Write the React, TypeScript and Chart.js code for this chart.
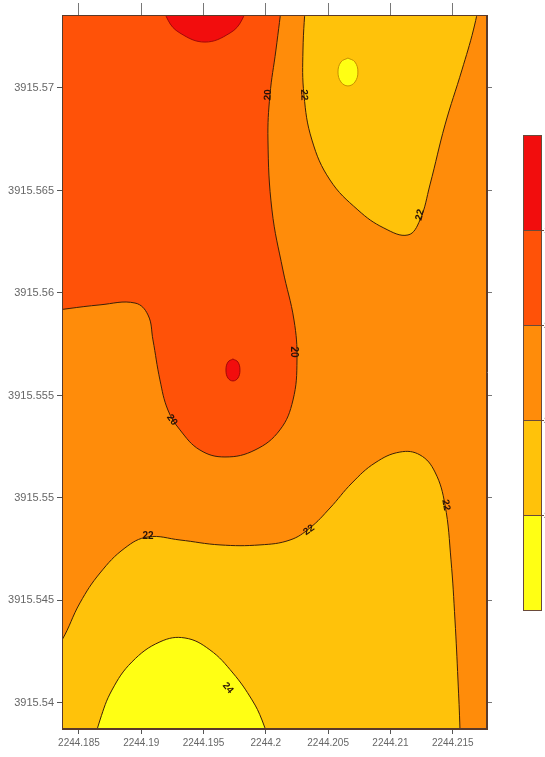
import React, { useEffect, useRef } from "react";
import { Chart, registerables } from "chart.js";
Chart.register(...registerables);

// ---- axes ----
const xTicks = [2244.185, 2244.19, 2244.195, 2244.2, 2244.205, 2244.21, 2244.215];
const yTicks = [3915.54, 3915.545, 3915.55, 3915.555, 3915.56, 3915.565, 3915.57];
const xRange = [2244.18364, 2244.21775];
const yRange = [3915.53873, 3915.57356];

// ---- contour boundaries (data units) ----
const redOrangeX = [2244.20137, 2244.20081, 2244.20033, 2244.20017, 2244.20049, 2244.20137, 2244.20226, 2244.2025, 2244.20218, 2244.20113, 2244.19913, 2244.19672, 2244.19471, 2244.19311, 2244.19214, 2244.1915, 2244.19094, 2244.19054, 2244.1895, 2244.18669, 2244.18187, 2244.18026];
const redOrangeY = [3915.57454, 3915.57185, 3915.56966, 3915.56746, 3915.56405, 3915.56112, 3915.55868, 3915.55673, 3915.55478, 3915.55332, 3915.55234, 3915.552, 3915.55234, 3915.55332, 3915.55429, 3915.55576, 3915.55771, 3915.55893, 3915.55951, 3915.55942, 3915.55907, 3915.55902];

const redTopX = [2244.1915, 2244.19214, 2244.19311, 2244.19511, 2244.19712, 2244.19808, 2244.19872];
const redTopY = [3915.57454, 3915.57332, 3915.57268, 3915.57224, 3915.57268, 3915.57332, 3915.57454];

const redDotX = [2244.19736, 2244.19776, 2244.19792, 2244.19776, 2244.19736, 2244.19696, 2244.1968, 2244.19696, 2244.19736];
const redDotY = [3915.55678, 3915.55663, 3915.55624, 3915.55585, 3915.55571, 3915.55585, 3915.55624, 3915.55663, 3915.55678];

const goldTopX = [2244.20322, 2244.20298, 2244.20306, 2244.2037, 2244.20515, 2244.20739, 2244.20947, 2244.21141, 2244.21237, 2244.21317, 2244.21438, 2244.21574, 2244.21666, 2244.21726];
const goldTopY = [3915.57454, 3915.57185, 3915.56966, 3915.56746, 3915.56551, 3915.56405, 3915.56317, 3915.56283, 3915.56356, 3915.56527, 3915.5682, 3915.57088, 3915.57283, 3915.57454];

const yellowDotX = [2244.20659, 2244.20715, 2244.20739, 2244.20715, 2244.20659, 2244.20603, 2244.20579, 2244.20603, 2244.20659];
const yellowDotY = [3915.57146, 3915.57127, 3915.57078, 3915.57029, 3915.5701, 3915.57029, 3915.57078, 3915.57127, 3915.57146];

const goldBottomX = [2244.18187, 2244.18364, 2244.18508, 2244.18669, 2244.18869, 2244.19054, 2244.19311, 2244.19632, 2244.19953, 2244.20194, 2244.20354, 2244.20515, 2244.20691, 2244.20876, 2244.21076, 2244.21237, 2244.21357, 2244.21438, 2244.21486, 2244.21518, 2244.21542, 2244.21558, 2244.21566];
const goldBottomY = [3915.54151, 3915.54307, 3915.54488, 3915.54634, 3915.54756, 3915.5481, 3915.54795, 3915.54771, 3915.54771, 3915.54795, 3915.54854, 3915.54951, 3915.55073, 3915.55171, 3915.55224, 3915.5521, 3915.55127, 3915.54966, 3915.54698, 3915.54405, 3915.54112, 3915.53873, 3915.53622];

const yellowBottomX = [2244.18604, 2244.18669, 2244.18765, 2244.18925, 2244.1915, 2244.19351, 2244.19551, 2244.19736, 2244.19889, 2244.19969, 2244.20049];
const yellowBottomY = [3915.53771, 3915.53917, 3915.54063, 3915.542, 3915.54298, 3915.54317, 3915.54259, 3915.54146, 3915.54015, 3915.53917, 3915.53771];

// ---- contour labels ----
const labelText = ["20", "22", "22", "20", "20", "22", "22", "22", "24"];
const labelX = [2244.20017, 2244.20306, 2244.21237, 2244.20226, 2244.19246, 2244.19054, 2244.20346, 2244.21446, 2244.19696];
const labelY = [3915.56966, 3915.56966, 3915.56381, 3915.55712, 3915.55381, 3915.54815, 3915.54844, 3915.54966, 3915.54073];
const labelAngle = [-88, 88, -75, 90, 55, 0, -35, 80, 50];

// ---- levels / colour bar ----
const levelColors = ["#f20d0d", "#ff5208", "#ff8c0a", "#ffc20a", "#ffff14"];
const levelBounds = ["18", "20", "22", "24"];

const FONT = "'Liberation Sans', Arial, sans-serif";

export default function App() {
  const ref = useRef<HTMLCanvasElement>(null);

  useEffect(() => {
    const canvas = ref.current!;
    const pts = (xs: number[], ys: number[]) => xs.map((x, i) => ({ x, y: ys[i] }));
    const pad = 0.003;
    const lineC = "#3d2008";
    const regions = [
      { d: pts(redOrangeX, redOrangeY).concat([{ x: xRange[0] - pad, y: yRange[1] + pad }]), c: levelColors[1], b: lineC },
      { d: pts(redTopX, redTopY), c: levelColors[0], b: "#a00808" },
      { d: pts(redDotX, redDotY), c: levelColors[0], b: "#a00808" },
      { d: pts(goldTopX, goldTopY), c: levelColors[3], b: lineC },
      { d: pts(yellowDotX, yellowDotY), c: levelColors[4], b: "#c89000" },
      { d: pts(goldBottomX, goldBottomY).concat([{ x: xRange[0] - pad, y: yRange[0] - pad }]), c: levelColors[3], b: lineC },
      { d: pts(yellowBottomX, yellowBottomY), c: levelColors[4], b: lineC },
    ];
    const datasets = regions.map((r, i) => ({
      data: r.d,
      fill: "shape",
      backgroundColor: r.c,
      borderColor: r.b,
      borderWidth: 1,
      pointRadius: 0,
      tension: 0.4,
      capBezierPoints: false,
      clip: false,
      order: regions.length - i,
    }));

    const contourPlugin = {
      id: "contour",
      beforeDatasetsDraw(chart: any) {
        const { ctx, chartArea: a } = chart;
        ctx.save();
        ctx.beginPath();
        ctx.rect(a.left, a.top, a.right - a.left, a.bottom - a.top);
        ctx.clip();
        ctx.fillStyle = levelColors[2];
        ctx.fillRect(a.left, a.top, a.right - a.left, a.bottom - a.top);
      },
      afterDatasetsDraw(chart: any) {
        const { ctx, chartArea: a, scales } = chart;
        ctx.restore();
        // contour labels
        ctx.save();
        ctx.fillStyle = "#2a1208";
        ctx.font = `bold 10px ${FONT}`;
        ctx.textAlign = "center";
        ctx.textBaseline = "middle";
        labelText.forEach((t, i) => {
          const px = scales.x.getPixelForValue(labelX[i]);
          const py = scales.y.getPixelForValue(labelY[i]);
          ctx.save();
          ctx.translate(px, py);
          ctx.rotate((labelAngle[i] * Math.PI) / 180);
          ctx.fillText(t, 0, 0);
          ctx.restore();
        });
        ctx.restore();
        // frame
        ctx.save();
        ctx.strokeStyle = "#5a3a2a";
        ctx.lineWidth = 1;
        ctx.strokeRect(Math.round(a.left) + 0.5, Math.round(a.top) + 0.5, a.right - a.left - 1, a.bottom - a.top - 1);
        ctx.restore();
        // colour bar
        const cbL = 523, cbW = 18, cbT = 135, cbB = 610;
        const n = levelColors.length;
        const h = (cbB - cbT) / n;
        ctx.save();
        levelColors.forEach((c, i) => {
          ctx.fillStyle = c;
          ctx.fillRect(cbL, cbT + i * h, cbW, h + 0.5);
        });
        ctx.strokeStyle = "#6a4a3a";
        ctx.lineWidth = 1;
        ctx.strokeRect(cbL + 0.5, cbT + 0.5, cbW, cbB - cbT);
        ctx.fillStyle = "#444";
        ctx.font = `9px ${FONT}`;
        ctx.textBaseline = "middle";
        levelBounds.forEach((t, i) => {
          const y = Math.round(cbT + (i + 1) * h) + 0.5;
          ctx.beginPath();
          ctx.moveTo(cbL, y);
          ctx.lineTo(cbL + cbW + 3, y);
          ctx.stroke();
          ctx.fillText(t, cbL + cbW + 3, y);
        });
        ctx.restore();
      },
    };

    const xFont = { size: 10, family: FONT };
    const yFont = { size: 11, family: FONT };
    const chart = new Chart(canvas, {
      type: "line",
      data: { datasets: datasets as any },
      options: {
        animation: false,
        responsive: false,
        maintainAspectRatio: false,
        devicePixelRatio: 1,
        layout: { padding: 0 },
        plugins: { legend: { display: false }, tooltip: { enabled: false } },
        scales: {
          x: {
            type: "linear",
            position: "bottom",
            min: xRange[0],
            max: xRange[1],
            afterBuildTicks: (s: any) => { s.ticks = xTicks.map((v) => ({ value: v })); },
            afterFit: (s: any) => { s.height = 28; },
            ticks: { callback: (v: any) => String(v), font: xFont, color: "#666", padding: 3, maxRotation: 0, autoSkip: false },
            grid: { drawOnChartArea: false, tickLength: 5, color: "#555" },
            border: { color: "#5a3a2a" },
          },
          x2: {
            type: "linear",
            axis: "x",
            position: "top",
            min: xRange[0],
            max: xRange[1],
            afterBuildTicks: (s: any) => { s.ticks = xTicks.map((v) => ({ value: v })); },
            afterFit: (s: any) => { s.height = 15; },
            ticks: { display: false },
            grid: { drawOnChartArea: false, tickLength: 12, color: "#777" },
            border: { color: "#5a3a2a" },
          },
          y: {
            type: "linear",
            position: "left",
            min: yRange[0],
            max: yRange[1],
            afterBuildTicks: (s: any) => { s.ticks = yTicks.map((v) => ({ value: v })); },
            afterFit: (s: any) => { s.width = 62; },
            ticks: { callback: (v: any) => String(v), font: yFont, color: "#666", padding: 3, autoSkip: false },
            grid: { drawOnChartArea: false, tickLength: 5, color: "#555" },
            border: { color: "#5a3a2a" },
          },
          y2: {
            type: "linear",
            axis: "y",
            position: "right",
            min: yRange[0],
            max: yRange[1],
            afterBuildTicks: (s: any) => { s.ticks = yTicks.map((v) => ({ value: v })); },
            afterFit: (s: any) => { s.width = 58; },
            ticks: { display: false },
            grid: { drawOnChartArea: false, tickLength: 5, color: "#777" },
            border: { color: "#5a3a2a" },
          },
        },
      } as any,
      plugins: [contourPlugin],
    });
    return () => chart.destroy();
  }, []);

  return (
    <div style={{ position: "absolute", left: 0, top: 0, width: 545, height: 757, background: "#fff" }}>
      <canvas ref={ref} width={545} height={757} style={{ display: "block", width: 545, height: 757 }} />
    </div>
  );
}
